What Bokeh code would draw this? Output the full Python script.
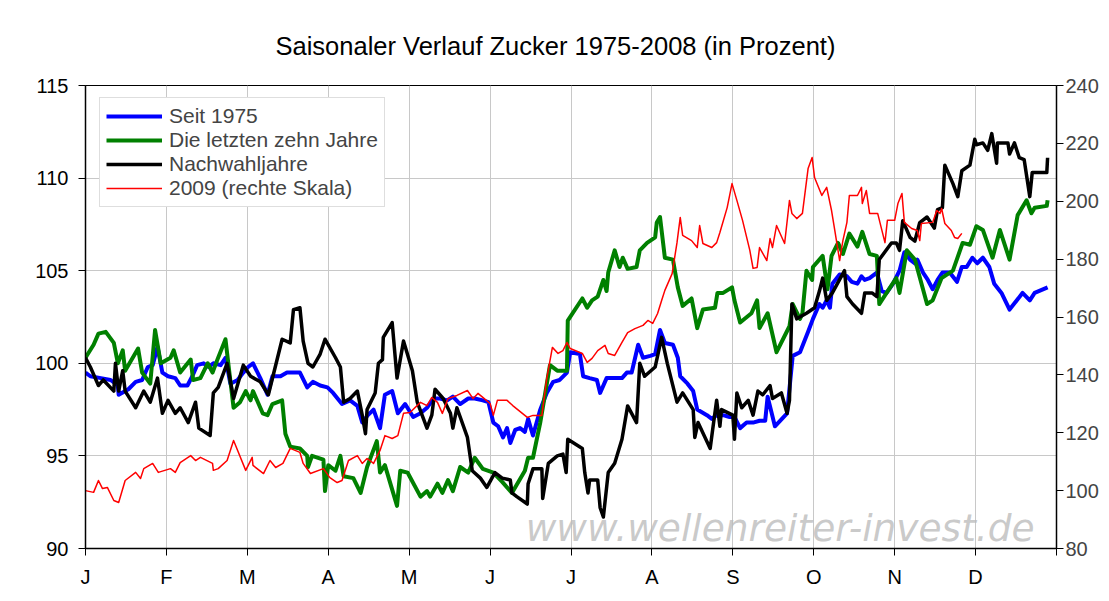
from bokeh.plotting import figure
from bokeh.models import Range1d, LinearAxis, FixedTicker, Legend, LegendItem, Label
from bokeh.embed import file_html
from bokeh.resources import INLINE

months = ["J", "F", "M", "A", "M", "J", "J", "A", "S", "O", "N", "D"]

# Seit 1975 (left scale), x in months since 1 Jan
seit_m = [0.00,0.06,0.19,0.31,0.40,0.41,0.53,0.62,0.70,0.77,
          0.83,0.89,0.95,1.02,1.11,1.17,1.26,1.32,1.38,1.46,
          1.52,1.58,1.67,1.73,1.79,1.88,1.95,2.01,2.07,2.16,
          2.25,2.31,2.41,2.49,2.57,2.65,2.74,2.81,2.90,2.99,
          3.06,3.17,3.27,3.36,3.42,3.49,3.56,3.64,3.70,3.79,
          3.86,3.95,4.05,4.14,4.22,4.30,4.38,4.47,4.54,4.63,
          4.73,4.81,4.91,4.98,5.04,5.10,5.16,5.21,5.25,5.31,
          5.37,5.43,5.47,5.53,5.62,5.70,5.78,5.86,5.95,5.99,
          6.11,6.15,6.23,6.32,6.36,6.44,6.54,6.63,6.69,6.75,
          6.83,6.89,6.98,7.04,7.10,7.16,7.26,7.32,7.35,7.44,
          7.51,7.56,7.68,7.74,7.80,7.88,7.96,8.02,8.09,8.17,
          8.25,8.33,8.40,8.43,8.52,8.67,8.74,8.83,8.93,8.99,
          9.07,9.11,9.16,9.20,9.23,9.32,9.41,9.47,9.54,9.59,
          9.63,9.69,9.78,9.84,9.90,9.98,10.06,10.12,10.19,10.25,
          10.28,10.35,10.41,10.47,10.53,10.59,10.68,10.77,10.83,10.89,
          10.96,11.02,11.09,11.17,11.23,11.32,11.42,11.51,11.58,11.67,
          11.73,11.89]
seit = [99.5,99.3,99.2,99.1,98.8,98.3,98.6,99.0,99.1,99.8,
        99.9,100.9,99.5,99.3,99.2,98.8,98.8,99.3,99.9,100.0,
        99.8,100.0,99.9,100.3,98.9,99.1,99.5,99.8,100.0,99.2,
        98.3,99.3,99.3,99.5,99.5,99.5,98.7,99.0,98.8,98.7,
        98.4,97.8,98.0,97.7,96.8,97.2,97.5,96.5,98.3,98.5,
        97.3,97.8,97.1,97.3,97.6,98.1,98.1,98.0,98.2,97.8,
        98.1,98.1,98.0,97.9,96.8,96.6,96.0,96.5,95.7,96.4,
        96.5,96.3,97.0,96.1,97.5,98.4,99.0,99.1,99.5,100.6,
        100.5,99.3,99.2,99.1,98.4,99.2,99.2,99.2,99.5,99.5,
        101.0,100.3,100.4,100.5,101.8,101.1,101.0,100.3,99.3,98.9,
        98.5,97.5,97.2,97.0,97.2,97.2,97.1,97.1,96.5,96.8,
        96.8,96.9,96.9,98.2,96.6,97.3,100.4,100.6,101.7,102.4,
        103.2,103.0,103.4,103.0,104.3,104.8,104.7,104.4,104.3,104.7,
        104.5,104.6,104.9,103.9,103.8,104.3,105.0,106.0,105.6,105.4,
        105.6,104.9,104.5,104.0,104.5,104.9,104.9,104.4,105.2,105.2,
        105.7,105.4,105.7,105.2,104.3,103.8,102.9,103.4,103.8,103.4,
        103.8,104.1]

# Die letzten zehn Jahre (left scale)
zehn_m = [0.00,0.10,0.16,0.25,0.35,0.40,0.46,0.49,0.65,0.70,
          0.80,0.86,0.93,1.05,1.09,1.17,1.30,1.33,1.42,1.51,
          1.57,1.63,1.73,1.77,1.83,1.91,1.98,2.04,2.07,2.19,
          2.25,2.31,2.43,2.47,2.53,2.65,2.74,2.75,2.80,2.94,
          2.96,3.00,3.09,3.15,3.19,3.31,3.40,3.48,3.60,3.64,
          3.70,3.85,3.89,3.98,4.14,4.22,4.26,4.35,4.41,4.48,
          4.54,4.63,4.73,4.81,4.91,5.04,5.15,5.27,5.43,5.47,
          5.53,5.62,5.74,5.83,5.95,5.96,6.14,6.20,6.26,6.33,
          6.40,6.44,6.46,6.54,6.60,6.64,6.70,6.81,6.85,6.94,
          7.04,7.06,7.10,7.16,7.26,7.32,7.38,7.49,7.56,7.63,
          7.78,7.81,7.88,7.99,8.02,8.09,8.23,8.30,8.33,8.43,
          8.54,8.70,8.74,8.83,8.86,8.91,8.98,8.99,9.11,9.17,
          9.22,9.30,9.36,9.44,9.54,9.60,9.69,9.78,9.81,9.90,
          10.02,10.06,10.15,10.25,10.40,10.47,10.58,10.72,10.84,10.93,
          11.01,11.09,11.21,11.30,11.42,11.52,11.63,11.69,11.73,11.88,
          11.89]
zehn = [100.3,101.0,101.6,101.7,101.1,100.0,100.7,99.6,100.8,99.5,
        98.9,101.8,100.0,100.3,100.7,99.5,100.2,99.1,99.2,100.0,
        99.5,100.2,101.3,99.8,97.6,97.9,98.5,98.0,98.5,97.3,
        97.2,97.8,98.0,96.2,95.5,95.4,95.0,94.4,95.0,94.8,
        93.1,94.5,94.2,95.0,93.9,93.8,93.0,94.4,95.8,94.1,
        94.5,92.3,94.2,94.1,92.8,93.1,92.8,93.5,93.0,93.7,
        93.1,94.4,94.1,94.9,94.3,94.1,93.6,93.0,94.2,94.9,
        94.9,96.8,99.9,99.6,99.6,102.3,103.5,103.0,103.4,103.6,
        104.5,103.9,104.9,106.1,105.2,105.7,105.1,105.2,106.1,106.5,
        106.8,107.6,107.9,105.7,105.6,104.1,103.1,103.5,101.9,102.9,
        103.0,103.8,103.8,104.1,103.4,102.2,102.7,103.4,101.9,102.7,
        100.6,102.0,103.2,102.4,102.7,105.0,104.5,105.2,105.8,104.0,
        105.8,106.5,105.9,107.0,106.3,107.1,105.9,105.8,103.2,103.8,
        104.6,103.8,106.1,105.6,103.2,103.4,104.6,105.0,106.5,106.4,
        107.4,107.2,105.7,107.2,105.6,108.0,108.8,108.1,108.4,108.5,
        108.8]

# Nachwahljahre (left scale)
nach_m = [0.00,0.06,0.16,0.22,0.35,0.37,0.41,0.46,0.49,0.62,
          0.72,0.80,0.89,0.95,1.02,1.11,1.17,1.27,1.36,1.40,
          1.54,1.58,1.64,1.75,1.83,1.95,2.04,2.16,2.26,2.43,
          2.53,2.57,2.65,2.69,2.75,2.81,2.90,2.96,3.09,3.15,
          3.19,3.27,3.36,3.42,3.46,3.48,3.58,3.62,3.67,3.68,
          3.79,3.85,3.93,4.04,4.10,4.22,4.28,4.32,4.42,4.51,
          4.54,4.59,4.72,4.78,4.88,4.96,5.06,5.15,5.25,5.27,
          5.33,5.46,5.47,5.53,5.64,5.65,5.72,5.83,5.90,5.94,
          5.96,6.14,6.17,6.21,6.23,6.33,6.36,6.40,6.46,6.54,
          6.63,6.70,6.81,6.85,6.91,7.04,7.12,7.19,7.31,7.38,
          7.51,7.53,7.57,7.72,7.75,7.80,7.84,7.86,8.00,8.02,
          8.05,8.11,8.19,8.25,8.31,8.37,8.46,8.49,8.60,8.67,
          8.70,8.73,8.79,8.91,9.01,9.07,9.11,9.16,9.23,9.38,
          9.41,9.48,9.59,9.63,9.72,9.78,9.81,9.96,10.02,10.06,
          10.10,10.19,10.25,10.31,10.40,10.49,10.53,10.59,10.62,10.72,
          10.78,10.83,10.93,10.99,11.01,11.09,11.15,11.20,11.26,11.27,
          11.40,11.42,11.48,11.54,11.60,11.67,11.70,11.88,11.89]
nach = [100.3,99.8,98.8,99.1,98.5,100.0,98.5,99.6,98.5,97.6,
        98.5,97.9,99.2,97.3,98.0,97.3,97.6,96.8,97.9,96.5,
        96.1,98.4,98.7,100.0,98.1,99.9,99.3,99.0,98.3,101.3,
        101.1,102.9,103.0,101.2,100.0,99.8,100.5,101.3,100.3,99.8,
        97.9,98.1,98.5,97.2,96.2,97.5,98.4,100.0,100.2,101.4,
        102.2,99.2,101.2,99.6,97.9,96.5,97.2,98.6,98.1,97.3,
        96.5,97.6,96.0,94.2,93.8,93.3,94.1,93.8,93.7,93.0,
        92.8,92.4,93.5,94.3,94.3,92.7,94.6,95.0,95.1,94.1,
        95.9,95.4,94.1,93.0,93.7,93.7,92.2,91.7,94.1,94.6,
        95.9,97.7,96.8,100.0,99.3,99.8,101.4,100.0,97.9,98.4,
        97.5,96.0,96.8,95.4,96.4,98.0,96.6,97.5,97.2,95.9,
        98.4,97.6,98.0,97.2,98.5,98.3,98.8,98.1,98.4,97.3,
        98.0,103.2,102.4,102.7,103.0,103.9,104.6,103.4,103.8,105.0,
        103.6,103.2,102.7,103.8,103.8,103.6,105.6,106.5,106.5,106.1,
        107.7,106.8,106.6,107.6,107.9,107.3,108.3,108.4,110.7,109.7,
        109.0,110.4,110.7,112.1,111.8,111.9,111.5,112.4,110.8,111.9,
        111.9,111.3,111.9,111.1,111.0,109.0,110.3,110.3,111.1]

# 2009 (right scale)
y09_m = [0.00,0.10,0.16,0.21,0.27,0.35,0.41,0.49,0.62,0.68,
         0.72,0.83,0.90,1.05,1.11,1.17,1.30,1.36,1.42,1.57,
         1.58,1.64,1.75,1.83,1.98,2.06,2.07,2.20,2.28,2.35,
         2.44,2.53,2.65,2.69,2.78,2.94,3.02,3.11,3.17,3.25,
         3.36,3.42,3.48,3.56,3.64,3.70,3.79,3.86,3.93,4.01,
         4.14,4.22,4.28,4.35,4.41,4.48,4.59,4.72,4.79,4.85,
         4.91,5.00,5.04,5.09,5.21,5.28,5.46,5.53,5.64,5.70,
         5.77,5.84,5.90,5.95,5.99,6.14,6.20,6.26,6.33,6.42,
         6.46,6.54,6.63,6.70,6.79,6.89,6.95,7.01,7.07,7.12,
         7.16,7.25,7.31,7.35,7.38,7.49,7.56,7.59,7.63,7.74,
         7.80,7.84,7.93,7.99,8.05,8.12,8.21,8.25,8.30,8.33,
         8.42,8.46,8.49,8.54,8.64,8.70,8.73,8.79,8.86,8.93,
         8.98,9.01,9.10,9.16,9.22,9.26,9.32,9.36,9.41,9.44,
         9.54,9.59,9.60,9.65,9.69,9.79,9.88,9.91,10.00,10.04,
         10.09,10.12,10.21,10.28,10.31,10.33,10.47,10.52,10.56,10.58,
         10.62,10.70,10.74,10.78,10.83]
y09 = [100.0,99.4,103.5,100.7,101.1,96.6,95.9,103.5,106.3,104.2,
       107.6,109.4,106.3,107.6,106.3,109.7,112.1,110.4,111.5,109.4,
       107.0,107.6,110.4,117.3,107.0,111.5,108.7,105.9,110.4,108.0,
       109.4,114.6,113.2,109.4,105.9,107.6,104.5,102.8,103.5,110.4,
       112.1,109.4,111.1,109.4,113.9,119.0,118.0,119.0,126.7,127.0,
       130.5,129.4,132.2,130.5,126.7,131.8,132.9,134.6,131.8,133.6,
       132.2,130.1,126.0,131.2,131.2,129.4,125.3,126.0,126.0,138.7,
       149.5,147.4,148.4,151.2,149.1,147.4,144.3,145.7,148.4,150.2,
       147.4,146.7,151.2,154.6,156.0,157.1,158.8,157.8,161.2,165.7,
       169.2,175.0,185.7,194.4,188.2,186.4,184.0,191.6,185.4,184.0,
       185.7,189.2,197.8,206.1,200.3,193.4,183.0,176.8,177.1,184.0,
       179.5,187.1,184.0,191.6,185.4,200.3,195.8,194.0,195.8,211.3,
       215.1,208.2,202.0,204.8,196.8,189.9,179.5,186.4,192.7,202.0,
       202.0,204.8,199.2,203.7,195.8,195.8,185.7,193.4,193.4,199.2,
       202.7,192.7,190.6,189.9,186.4,192.3,192.7,196.8,195.8,197.5,
       192.3,189.9,187.5,187.1,188.9]

left_ticks = [90, 95, 100, 105, 110, 115]
right_ticks = [80, 100, 120, 140, 160, 180, 200, 220, 240]

FONT = "Liberation Sans"

p = figure(width=1101, height=593, x_range=Range1d(0, 12), y_range=Range1d(90, 115),
           output_backend="svg", toolbar_location=None,
           min_border_left=85, min_border_right=44, min_border_top=85, min_border_bottom=45,
           title="Saisonaler Verlauf Zucker 1975-2008 (in Prozent)")
p.title.align = "left"
p.title.offset = 190
p.title.standoff = 52
p.title.text_font = FONT
p.title.text_font_size = "25.5px"
p.title.text_font_style = "normal"
p.title.text_color = "black"

p.outline_line_color = "black"
p.outline_line_width = 1
p.background_fill_color = "white"
p.border_fill_color = "white"

p.extra_y_ranges = {"rechts": Range1d(80, 240)}

p.xaxis.ticker = FixedTicker(ticks=list(range(13)))
p.xaxis.major_label_overrides = {i: (months[i] if i < 12 else "") for i in range(13)}
p.yaxis.ticker = FixedTicker(ticks=left_ticks)
for ax in [p.xaxis[0], p.yaxis[0]]:
    ax.axis_line_color = "black"
    ax.axis_line_width = 1.5
    ax.major_tick_line_color = "black"
    ax.major_tick_out = 7
    ax.major_tick_in = 0
    ax.minor_tick_line_color = None
    ax.major_label_text_font = FONT
    ax.major_label_text_font_size = "20px"
    ax.major_label_text_color = "black"
p.xaxis.major_label_standoff = 10
p.yaxis.major_label_standoff = 10

rax = LinearAxis(y_range_name="rechts", ticker=FixedTicker(ticks=right_ticks))
rax.axis_line_color = "black"
rax.axis_line_width = 1.5
rax.major_tick_line_color = "black"
rax.major_tick_out = 7
rax.major_tick_in = 0
rax.minor_tick_line_color = None
rax.major_label_text_font = FONT
rax.major_label_text_font_size = "20px"
rax.major_label_standoff = 2
p.add_layout(rax, "right")

p.xgrid.ticker = FixedTicker(ticks=list(range(13)))
p.ygrid.ticker = FixedTicker(ticks=left_ticks)
p.xgrid.grid_line_color = "#c8c8c8"
p.ygrid.grid_line_color = "#c8c8c8"
p.xgrid.grid_line_width = 1
p.ygrid.grid_line_width = 1

r_blue = p.line(seit_m, seit, line_color="#0000ff", line_width=4, line_join="round")
r_green = p.line(zehn_m, zehn, line_color="#008000", line_width=4, line_join="round")
r_black = p.line(nach_m, nach, line_color="#000000", line_width=3.5, line_join="round")
r_red = p.line(y09_m, y09, line_color="#ff0000", line_width=1.5, line_join="round",
               y_range_name="rechts")

wm = Label(x=11.73, y=91.1, text="www.wellenreiter-invest.de", text_align="right",
           text_baseline="alphabetic", text_font="DejaVu Sans", text_font_style="italic",
           text_font_size="37.5px", text_color="#bcbcbc", text_alpha=0.8)
p.add_layout(wm)

legend = Legend(items=[
    LegendItem(label="Seit 1975", renderers=[r_blue]),
    LegendItem(label="Die letzten zehn Jahre", renderers=[r_green]),
    LegendItem(label="Nachwahljahre", renderers=[r_black]),
    LegendItem(label="2009 (rechte Skala)", renderers=[r_red]),
], location=(14, 341))
legend.margin = 0
legend.padding = 6
legend.spacing = 0
legend.label_height = 22
legend.glyph_height = 22
legend.glyph_width = 56
legend.label_standoff = 7
legend.label_text_font = FONT
legend.label_text_font_size = "21px"
legend.border_line_color = "#bdbdbd"
legend.border_line_width = 1
legend.background_fill_color = "white"
legend.background_fill_alpha = 1
p.add_layout(legend)

open("out.html", "w").write(file_html(p, INLINE))
